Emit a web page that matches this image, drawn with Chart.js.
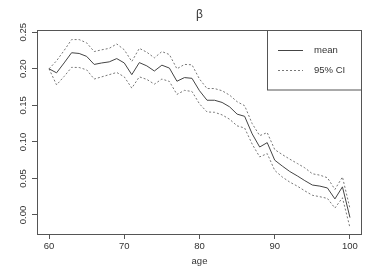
<!DOCTYPE html>
<html>
<head>
<meta charset="utf-8">
<script src="https://cdn.jsdelivr.net/npm/chart.js@4"></script>
<style>
  html, body { margin: 0; padding: 0; background: #fff; }
  #wrap { width: 382px; height: 273px; }
</style>
</head>
<body>
<div id="wrap"><canvas id="myChart" width="382" height="273"></canvas></div>
<script>
// dados
const idades = [60, 61, 62, 63, 64, 65, 66, 67, 68, 69, 70, 71, 72, 73, 74, 75, 76, 77, 78, 79, 80,
  81, 82, 83, 84, 85, 86, 87, 88, 89, 90, 91, 92, 93, 94, 95, 96, 97, 98, 99, 100];

const media = [0.200, 0.1945, 0.208, 0.222, 0.221, 0.217, 0.206, 0.208, 0.2095, 0.214, 0.208,
  0.192, 0.2085, 0.204, 0.197, 0.205, 0.201, 0.183, 0.188, 0.187, 0.170,
  0.157, 0.157, 0.154, 0.148, 0.138, 0.135, 0.111, 0.093, 0.099, 0.075,
  0.067, 0.0595, 0.0535, 0.047, 0.041, 0.0395, 0.037, 0.022, 0.0385, -0.0035];

const icSup = [0.200, 0.211, 0.225, 0.240, 0.240, 0.2355, 0.2236, 0.226, 0.228, 0.234, 0.226,
  0.210, 0.228, 0.2227, 0.215, 0.2236, 0.2195, 0.200, 0.206, 0.2055, 0.186,
  0.173, 0.173, 0.170, 0.164, 0.155, 0.1495, 0.125, 0.1086, 0.1127, 0.0895,
  0.0827, 0.0764, 0.0705, 0.0645, 0.0564, 0.0545, 0.051, 0.035, 0.052, 0.009];

const icInf = [0.200, 0.178, 0.1895, 0.202, 0.2018, 0.1986, 0.186, 0.189, 0.192, 0.195, 0.189,
  0.1736, 0.189, 0.1855, 0.179, 0.186, 0.1827, 0.165, 0.1705, 0.169, 0.152,
  0.141, 0.1405, 0.137, 0.131, 0.122, 0.119, 0.097, 0.0795, 0.084, 0.061,
  0.052, 0.045, 0.0395, 0.033, 0.027, 0.025, 0.0227, 0.0095, 0.0236, -0.0173];

const ticksX = [60, 70, 80, 90, 100];
const ticksY = [0.00, 0.05, 0.10, 0.15, 0.20, 0.25];

const titulo = 'β';
const tituloX = 'age';

function pontos(valores) {
  return idades.map((idade, i) => ({ x: idade, y: valores[i] }));
}

const corTexto = '#333';
const corMoldura = '#555';

// moldura, titulo, rotulos do eixo y e legenda no estilo do R
const estiloR = {
  id: 'estiloR',
  afterDraw(chart) {
    const c = chart.ctx;
    const area = chart.chartArea;
    c.save();

    c.strokeStyle = corMoldura;
    c.lineWidth = 1;
    c.strokeRect(area.left + 0.5, area.top + 0.5, area.right - area.left - 1, area.bottom - area.top);

    c.fillStyle = corTexto;
    c.font = '12px "Liberation Sans", sans-serif';
    c.textAlign = 'center';
    c.textBaseline = 'middle';
    c.fillText(titulo, (area.left + area.right) / 2, 15);

    const eixoY = chart.scales.y;
    c.font = '9.5px "Liberation Sans", sans-serif';
    eixoY.ticks.forEach((t) => {
      const py = eixoY.getPixelForValue(t.value);
      c.save();
      c.translate(23, py);
      c.rotate(-Math.PI / 2);
      c.fillText(t.value.toFixed(2), 0, 0);
      c.restore();
    });

    // legenda
    const lx = 267, ly = area.top;
    c.strokeStyle = corMoldura;
    c.strokeRect(lx + 0.5, ly + 0.5, area.right - lx - 1, 59.5);
    const itens = [chart.data.datasets[0], chart.data.datasets[1]];
    itens.forEach((ds, i) => {
      const yy = ly + 20.5 + i * 20;
      c.strokeStyle = ds.borderColor;
      c.lineWidth = ds.borderWidth;
      c.setLineDash(ds.borderDash || []);
      c.beginPath();
      c.moveTo(278, yy);
      c.lineTo(303, yy);
      c.stroke();
      c.setLineDash([]);
      c.fillStyle = corTexto;
      c.textAlign = 'left';
      c.fillText(i === 0 ? 'mean' : '95% CI', 314, yy);
    });
    c.restore();
  }
};

const ctx = document.getElementById('myChart').getContext('2d');

const grafico = new Chart(ctx, {
  type: 'line',
  data: {
    datasets: [
      {
        label: 'mean',
        data: pontos(media),
        borderColor: '#444',
        borderWidth: 1,
        pointRadius: 0,
        tension: 0,
        fill: false
      },
      {
        label: '95% CI',
        data: pontos(icSup),
        borderColor: '#777',
        borderWidth: 1,
        borderDash: [2, 2],
        pointRadius: 0,
        tension: 0,
        fill: false
      },
      {
        label: '95% CI inf',
        data: pontos(icInf),
        borderColor: '#777',
        borderWidth: 1,
        borderDash: [2, 2],
        pointRadius: 0,
        tension: 0,
        fill: false
      }
    ]
  },
  options: {
    responsive: false,
    animation: false,
    layout: { padding: { top: 30, right: 20, left: 0, bottom: 0 } },
    plugins: {
      legend: { display: false },
      tooltip: { enabled: false }
    },
    scales: {
      x: {
        type: 'linear',
        min: 58.4,
        max: 101.6,
        afterBuildTicks: (s) => { s.ticks = ticksX.map(v => ({ value: v })); },
        afterFit: (s) => { s.height = 39; },
        border: { display: false },
        grid: { drawOnChartArea: false, drawTicks: true, tickLength: 5, tickColor: corMoldura },
        ticks: {
          color: corTexto,
          padding: 2,
          maxRotation: 0,
          font: { family: '"Liberation Sans", sans-serif', size: 9.5 }
        },
        title: {
          display: true,
          text: tituloX,
          color: corTexto,
          padding: { top: 0, bottom: 6 },
          font: { family: '"Liberation Sans", sans-serif', size: 9.5 }
        }
      },
      y: {
        min: -0.026,
        max: 0.2531,
        afterBuildTicks: (s) => { s.ticks = ticksY.map(v => ({ value: v })); },
        afterFit: (s) => { s.width = 37; },
        border: { display: false },
        grid: { drawOnChartArea: false, drawTicks: true, tickLength: 5, tickColor: corMoldura },
        ticks: { display: false }
      }
    }
  },
  plugins: [estiloR]
});
</script>
</body>
</html>
